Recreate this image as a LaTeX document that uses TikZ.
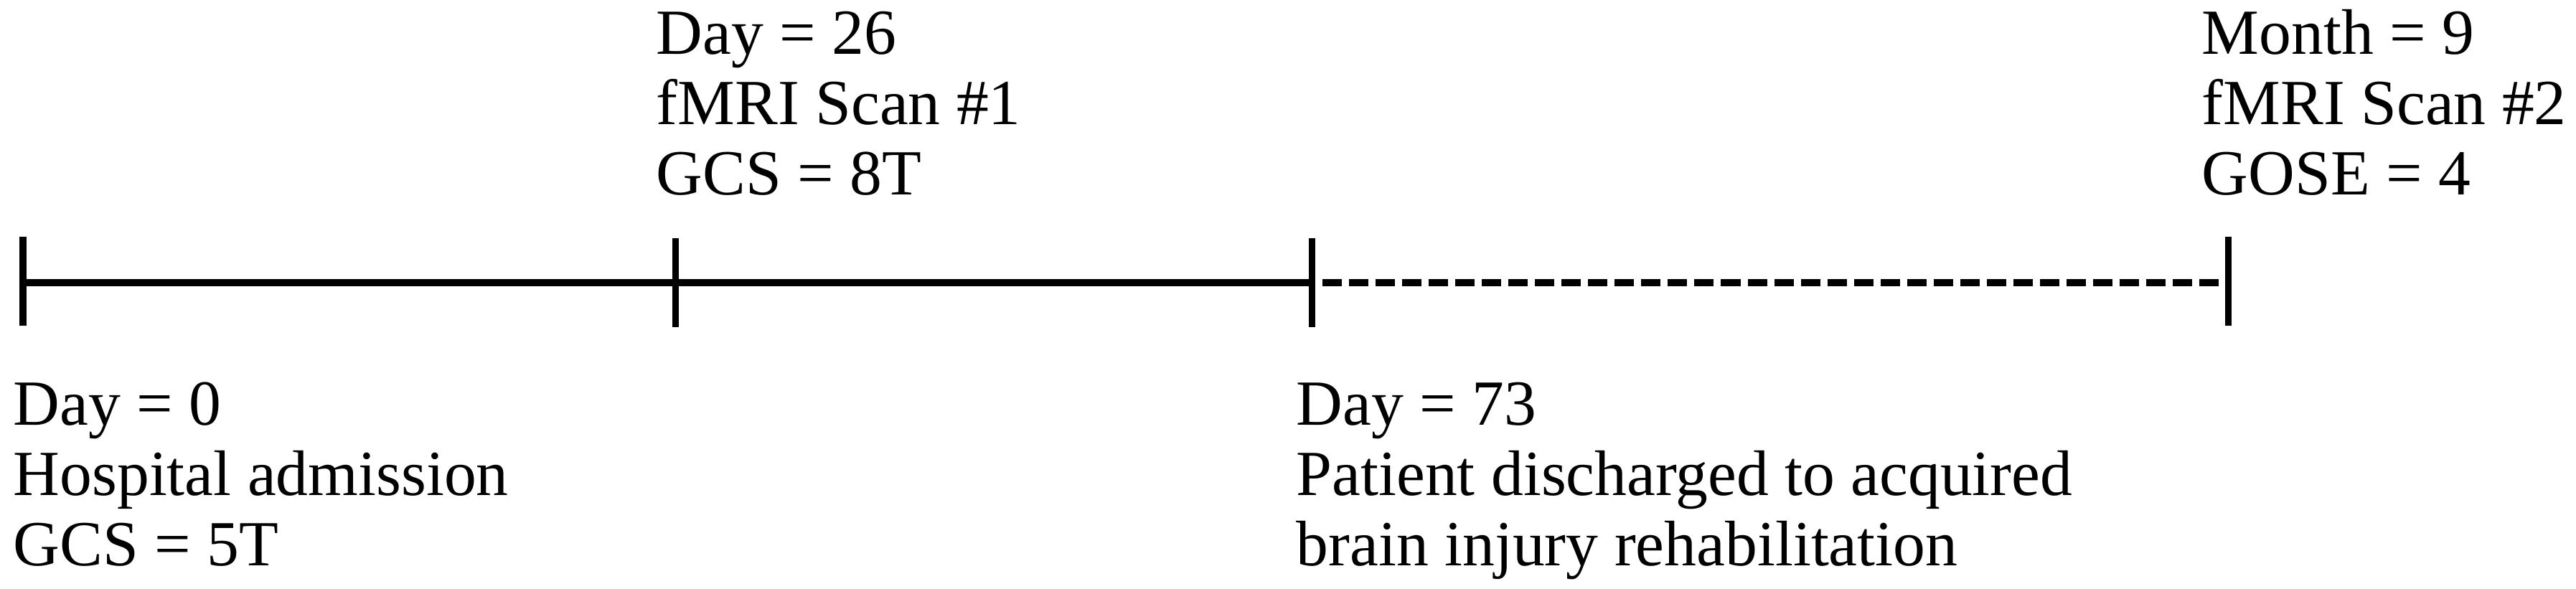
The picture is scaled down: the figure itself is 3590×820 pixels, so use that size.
\documentclass[tikz,border=0pt]{standalone}
\usepackage{fontspec}
\setmainfont{Liberation Serif}
\begin{document}
\begin{tikzpicture}[x=0.01cm,y=-0.01cm,
  lbl/.style={anchor=base west,inner sep=0pt,font=\fontsize{25.5}{28}\selectfont},
  axis/.style={line width=2.85pt,line cap=butt},
  dashaxis/.style={line width=2.85pt,dash pattern=on 7.68pt off 2.85pt,dash phase=6.26pt},
  tickmark/.style={line width=2.56pt}]
\useasboundingbox (0,0) rectangle (3590,820);
% timeline points
\coordinate (p0) at (32,394);
\coordinate (p1) at (941,394);
\coordinate (p2) at (1828,394);
\coordinate (p3) at (3105,394);
\coordinate (p0t) at (32,330);   \coordinate (p0b) at (32,454);
\coordinate (p1t) at (941,332);  \coordinate (p1b) at (941,456);
\coordinate (p2t) at (1828,332); \coordinate (p2b) at (1828,456);
\coordinate (p3t) at (3105,330); \coordinate (p3b) at (3105,454);
% axis
\draw[axis] (p0) -- (p2);
\draw[dashaxis] (p2) -- (p3);
\draw[tickmark] (p0t) -- (p0b);
\draw[tickmark] (p1t) -- (p1b);
\draw[tickmark] (p2t) -- (p2b);
\draw[tickmark] (p3t) -- (p3b);
% labels
\node[lbl] (a1) at (18,592) {Day = 0};
\node[lbl] (a2) at (18,690) {Hospital admission};
\node[lbl] (a3) at (18,788) {GCS = 5T};
\node[lbl] (b1) at (914,75) {Day = 26};
\node[lbl] (b2) at (914,173) {fMRI Scan \#1};
\node[lbl] (b3) at (914,271) {GCS = 8T};
\node[lbl] (c1) at (1806,592) {Day = 73};
\node[lbl] (c2) at (1806,690) {Patient discharged to acquired};
\node[lbl] (c3) at (1806,788) {brain injury rehabilitation};
\node[lbl] (d1) at (3068,75) {Month = 9};
\node[lbl] (d2) at (3068,173) {fMRI Scan \#2};
\node[lbl] (d3) at (3068,271) {GOSE = 4};
\end{tikzpicture}
\end{document}
